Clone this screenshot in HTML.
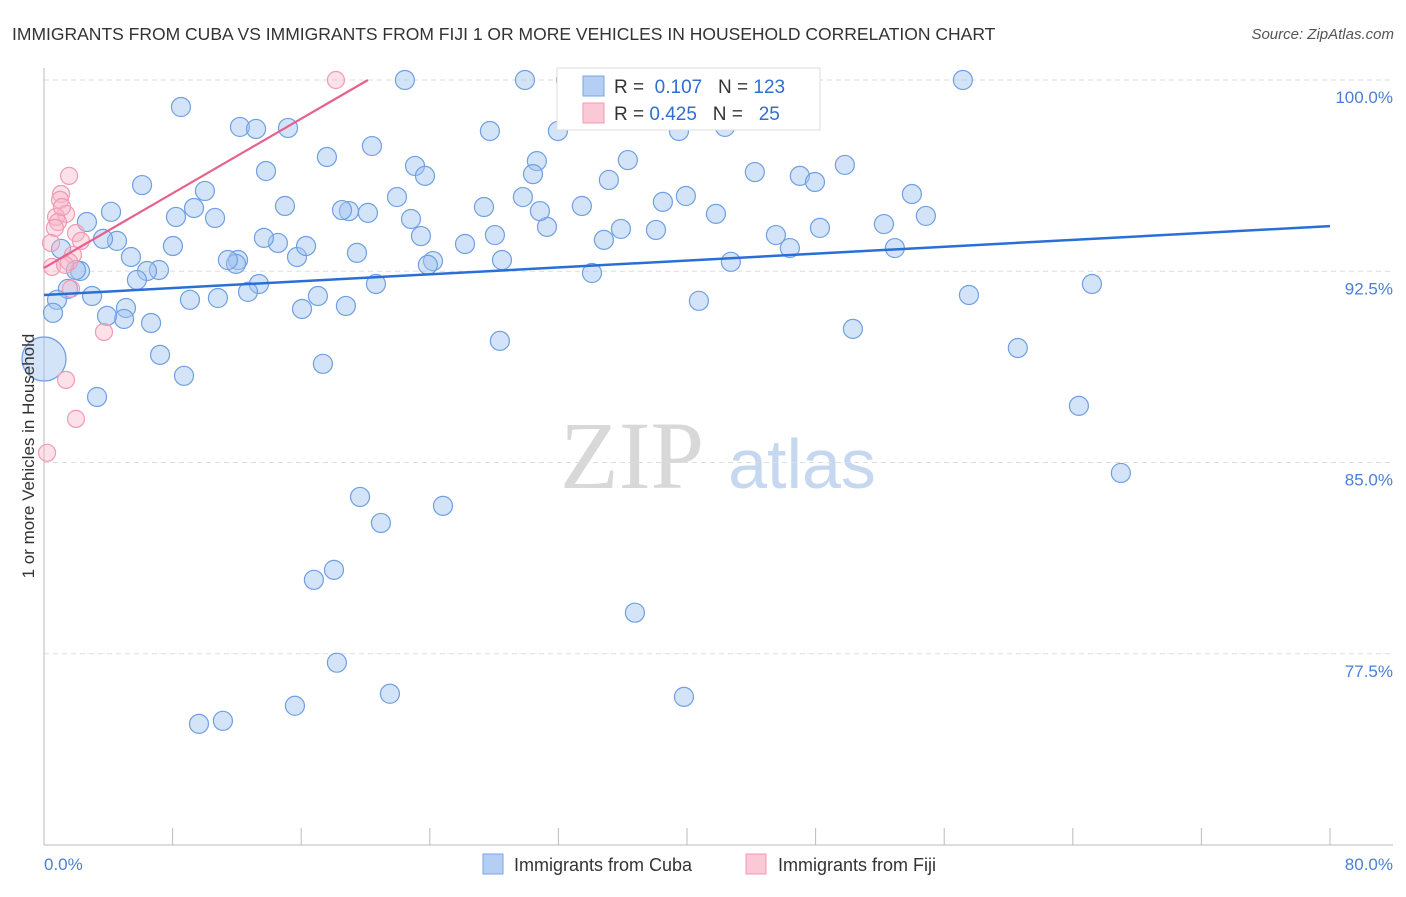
<!DOCTYPE html>
<html><head><meta charset="utf-8"><style>
body{margin:0;background:#fff;font-family:"Liberation Sans",sans-serif}
svg text{font-family:"Liberation Sans",sans-serif}
</style></head><body>
<svg id="chart" width="1406" height="892" xmlns="http://www.w3.org/2000/svg">
<text x="12" y="40" font-size="17.5" fill="#333">IMMIGRANTS FROM CUBA VS IMMIGRANTS FROM FIJI 1 OR MORE VEHICLES IN HOUSEHOLD CORRELATION CHART</text>
<text x="1394" y="39" font-size="15" fill="#555" font-style="italic" text-anchor="end">Source: ZipAtlas.com</text>
<g>
<text x="632" y="488" font-size="96" fill="#d8d8d8" text-anchor="middle" font-family="Liberation Serif" style="font-family:'Liberation Serif',serif">ZIP</text>
<text x="802" y="488" font-size="70" fill="#c6d8f0" text-anchor="middle">atlas</text>
</g>
<g id="grid"></g>
<g id="axes"></g>
<g id="pts"></g>
<g id="lines"></g>
<text transform="translate(34,456) rotate(-90)" font-size="17" fill="#333" text-anchor="middle">1 or more Vehicles in Household</text>
<text x="44" y="870" font-size="17" fill="#4a7fd4">0.0%</text>
<text x="1393" y="870" font-size="17" fill="#4a7fd4" text-anchor="end">80.0%</text>
<g>
<rect x="557" y="68" width="263" height="62" fill="#fff" stroke="#ddd"/>
<rect x="583" y="76" width="21" height="20" fill="#b4cff3" stroke="#7aa6e4"/>
<rect x="583" y="103" width="21" height="20" fill="#fbc8d6" stroke="#f09ab4"/>
<text x="614" y="93" font-size="19" fill="#333">R = <tspan fill="#2f6fd0">&#160;0.107</tspan>&#160;&#160;&#160;N = <tspan fill="#2f6fd0">123</tspan></text>
<text x="614" y="120" font-size="19" fill="#333">R = <tspan fill="#2f6fd0">0.425</tspan>&#160;&#160;&#160;N = <tspan fill="#2f6fd0">&#160;&#160;25</tspan></text>
</g>
<g>
<rect x="483" y="854" width="20" height="20" fill="#b4cff3" stroke="#7aa6e4"/>
<text x="514" y="871" font-size="18" fill="#333">Immigrants from Cuba</text>
<rect x="746" y="854" width="20" height="20" fill="#fbc8d6" stroke="#f09ab4"/>
<text x="778" y="871" font-size="18" fill="#333">Immigrants from Fiji</text>
</g>
</svg>
<script>
const cubaX=[8.52,12.19,13.19,15.18,6.10,13.81,17.60,20.40,22.45,29.92,32.47,57.16,27.74,31.97,39.50,42.36,23.08,23.70,30.66,30.42,36.32,35.14,44.22,47.02,47.96,49.82,53.99,54.86,52.25,52.93,48.27,45.53,46.40,42.73,41.80,39.93,38.50,38.07,35.89,34.83,33.46,34.09,31.29,30.85,29.79,28.05,27.37,28.49,26.19,24.20,23.88,23.45,22.83,21.96,20.65,20.15,18.97,18.54,19.47,18.78,17.04,16.05,15.74,16.30,14.55,13.68,14.99,13.37,12.69,12.07,11.94,11.44,10.82,10.64,10.01,9.33,8.21,8.02,9.08,7.15,6.41,6.66,7.22,8.71,5.78,5.41,5.10,4.98,3.92,4.54,4.17,3.67,2.99,3.30,2.67,2.24,1.99,1.49,1.06,0.81,0.56,0,17.35,19.66,24.82,20.96,18.04,16.79,18.22,21.52,15.61,11.13,9.64,36.76,39.81,28.36,40.74,50.32,57.54,60.58,65.19,64.38,66.99];
const cubaY=[98.94,98.16,98.08,98.12,95.88,96.43,96.98,97.41,100,100,100,100,98.0,98.0,98.0,98.16,96.63,96.24,96.82,96.31,96.86,96.08,96.39,96.24,96.0,96.67,95.53,94.67,94.35,93.41,94.20,93.92,93.41,92.87,94.75,95.45,95.22,94.12,94.16,93.73,95.06,92.43,94.24,94.86,95.41,93.92,95.02,92.94,93.57,92.90,92.75,93.88,94.55,95.41,92.0,94.79,94.86,94.90,93.22,91.14,91.53,91.02,93.06,93.49,93.61,93.81,95.06,92.0,91.69,92.94,92.79,92.94,91.45,94.59,95.65,94.98,94.63,93.49,91.38,92.55,92.51,90.47,89.22,88.40,92.16,93.06,91.06,90.63,90.75,93.69,94.83,93.77,91.53,87.57,94.43,92.51,92.55,91.81,93.38,91.38,90.87,89.06,88.87,83.65,83.30,82.63,80.79,80.40,77.15,75.93,75.46,74.87,74.75,79.11,75.81,89.77,91.34,90.24,91.57,89.49,92.0,87.22,84.59];
const fijiX=[18.16,1.56,1.06,1.0,1.37,0.75,0.87,0.68,0.44,1.99,2.30,1.80,1.56,1.68,0.50,3.73,1.37,1.99,0.19,1.12,1.31];
const fijiY=[100,96.24,95.53,95.30,94.75,94.63,94.43,94.20,93.61,94.0,93.69,93.14,92.87,91.81,92.67,90.12,88.24,86.71,85.38,95.02,92.75];
const cubaTrendX=[0,80], cubaTrendY=[91.57,94.27];
const fijiTrendX=[0,20.15], fijiTrendY=[92.63,100];
const yTicks=[100,92.5,85,77.5];
const yTickLabels=["100.0%","92.5%","85.0%","77.5%"];
const xTicks=[0,8,16,24,32,40,48,56,64,72,80];

const X=v=>44+v/80*1286;
const Y=v=>80+(100-v)*25.5;
const NS="http://www.w3.org/2000/svg";
function mk(tag,attrs,parent){const e=document.createElementNS(NS,tag);for(const k in attrs)e.setAttribute(k,attrs[k]);parent.appendChild(e);return e;}
const grid=document.getElementById('grid'),axes=document.getElementById('axes'),pts=document.getElementById('pts'),lines=document.getElementById('lines');
yTicks.forEach((t,i)=>{
  const l=mk('line',{x1:44,x2:1393,y1:Y(t),y2:Y(t),stroke:'#ddd','stroke-dasharray':'5,4'},grid);
  
  
  const tx=mk('text',{x:1393,y:Y(t)+23,'font-size':17,fill:'#4a7fd4','text-anchor':'end'},grid);
  tx.textContent=yTickLabels[i];
  
  
});
const xa=mk('line',{x1:44,x2:1393,y1:845,y2:845,stroke:'#bbb'},axes);


const ya=mk('line',{x1:44,x2:44,y1:68,y2:845,stroke:'#bbb'},axes);


xTicks.forEach(t=>{
  const l=mk('line',{x1:X(t),x2:X(t),y1:828,y2:845,stroke:'#bbb'},axes);
  
  
});
cubaX.forEach((x,i)=>{
  const r=(x===0)?22:9.5;
  const c=mk('circle',{cx:X(x),cy:Y(cubaY[i]),r:r,fill:'rgba(160,196,240,0.45)',stroke:'#6f9fe2','stroke-width':1.2},pts);
  
  
});
fijiX.forEach((x,i)=>{
  const c=mk('circle',{cx:X(x),cy:Y(fijiY[i]),r:8.5,fill:'rgba(248,180,200,0.4)',stroke:'#f09ab4','stroke-width':1.2},pts);
  
  
});
const bl=mk('line',{x1:X(cubaTrendX[0]),y1:Y(cubaTrendY[0]),x2:X(cubaTrendX[1]),y2:Y(cubaTrendY[1]),stroke:'#2a6fd6','stroke-width':2.5},lines);


const pl=mk('line',{x1:X(fijiTrendX[0]),y1:Y(fijiTrendY[0]),x2:X(fijiTrendX[1]),y2:Y(fijiTrendY[1]),stroke:'#e8608c','stroke-width':2.2},lines);


</script>
</body></html>
